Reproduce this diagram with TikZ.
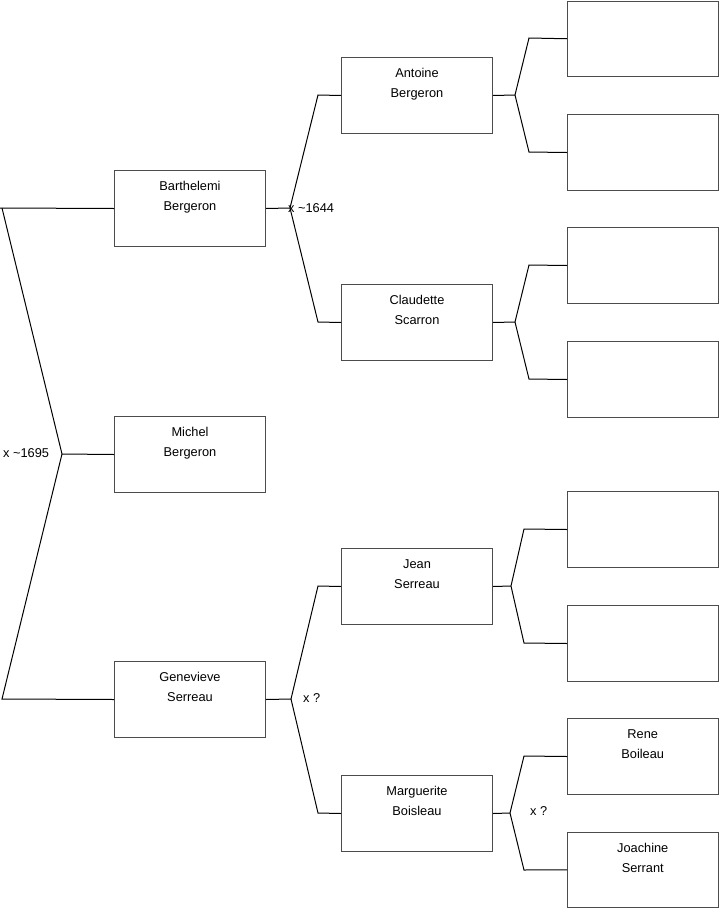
\documentclass[tikz,border=0pt]{standalone}
\usepackage{fontspec}
\setmainfont{Liberation Sans}
\begin{document}
\begin{tikzpicture}[x=1pt,y=-1pt,
  box/.style={draw=gray!60!black,line width=1pt,rectangle,minimum width=151pt,minimum height=76pt,inner sep=0pt,anchor=north west},
  box3/.style={box,minimum width=150.5pt},
  txt/.style={font=\fontsize{12.8}{20}\selectfont,align=center,inner sep=0pt,anchor=base},
  lbl/.style={font=\fontsize{12.8}{14}\selectfont,inner sep=0pt,anchor=west},
  conn/.style={draw=black,line width=1pt,line join=miter}]
\useasboundingbox (0,0) rectangle (719,908);
% column 1
\node[box] (b1) at (114,170) {};
\node[box] (mi) at (114,416) {};
\node[box] (ge) at (114,661) {};
% column 2
\node[box] (an) at (341,57) {};
\node[box] (cl) at (341,284) {};
\node[box] (je) at (341,548) {};
\node[box] (ma) at (341,775) {};
% column 3
\node[box3,minimum height=75.5pt] (e1) at (567,0.5) {};
\node[box3] (e2) at (567,114) {};
\node[box3] (e3) at (567,227) {};
\node[box3] (e4) at (567,341) {};
\node[box3] (e5) at (567,491) {};
\node[box3] (e6) at (567,605) {};
\node[box3] (re) at (567,718) {};
\node[box3,minimum height=74.5pt] (jo) at (567,832) {};
% texts
\foreach \n/\a/\b in {b1/Barthelemi/Bergeron, mi/Michel/Bergeron, ge/Genevieve/Serreau,
  an/Antoine/Bergeron, cl/Claudette/Scarron, je/Jean/Serreau, ma/Marguerite/Boisleau,
  re/Rene/Boileau, jo/Joachine/Serrant}{
  \node[txt] (\n t1) at ([yshift=-20.5pt]\n.north) {\a};
  \node[txt] (\n t2) at ([yshift=-40.5pt]\n.north) {\b};
}
% left fork
\coordinate (f0) at (62,454);
\coordinate (f0u) at (2,208);
\coordinate (f0d) at (2,699);
\draw[conn] (b1.west) -- (0,208);
\draw[conn] (f0u) -- (f0) -- (f0d) -- (ge.west);
\draw[conn] (f0) -- (mi.west);
\node[lbl] (l0) at (3,453) {x \textasciitilde1695};
% Barthelemi fork
\coordinate (f1) at (290,208);
\draw[conn] (b1.east) -- (f1);
\draw[conn] (an.west) -- (318,95) -- (f1) -- (318,322) -- (cl.west);
\node[lbl] (l1) at (288,208) {x \textasciitilde1644};
% Genevieve fork
\coordinate (f2) at (291,699);
\draw[conn] (ge.east) -- (f2);
\draw[conn] (je.west) -- (318,586) -- (f2) -- (318,813) -- (ma.west);
\node[lbl] (l2) at (303,698) {x ?};
% Antoine fork
\coordinate (f3) at (515,95);
\draw[conn] (an.east) -- (f3);
\draw[conn] (e1.west) -- (529,38) -- (f3) -- (529,152) -- (e2.west);
% Claudette fork
\coordinate (f4) at (515,322);
\draw[conn] (cl.east) -- (f4);
\draw[conn] (e3.west) -- (529,265) -- (f4) -- (529,379) -- (e4.west);
% Jean fork
\coordinate (f5) at (511,586);
\draw[conn] (je.east) -- (f5);
\draw[conn] (e5.west) -- (524,529) -- (f5) -- (524,643) -- (e6.west);
% Marguerite fork
\coordinate (f6) at (510,813);
\draw[conn] (ma.east) -- (f6);
\draw[conn] (re.west) -- (524,756) -- (f6) -- (524,870) -- (jo.west);
\node[lbl] (l3) at (530,811) {x ?};
\end{tikzpicture}
\end{document}
